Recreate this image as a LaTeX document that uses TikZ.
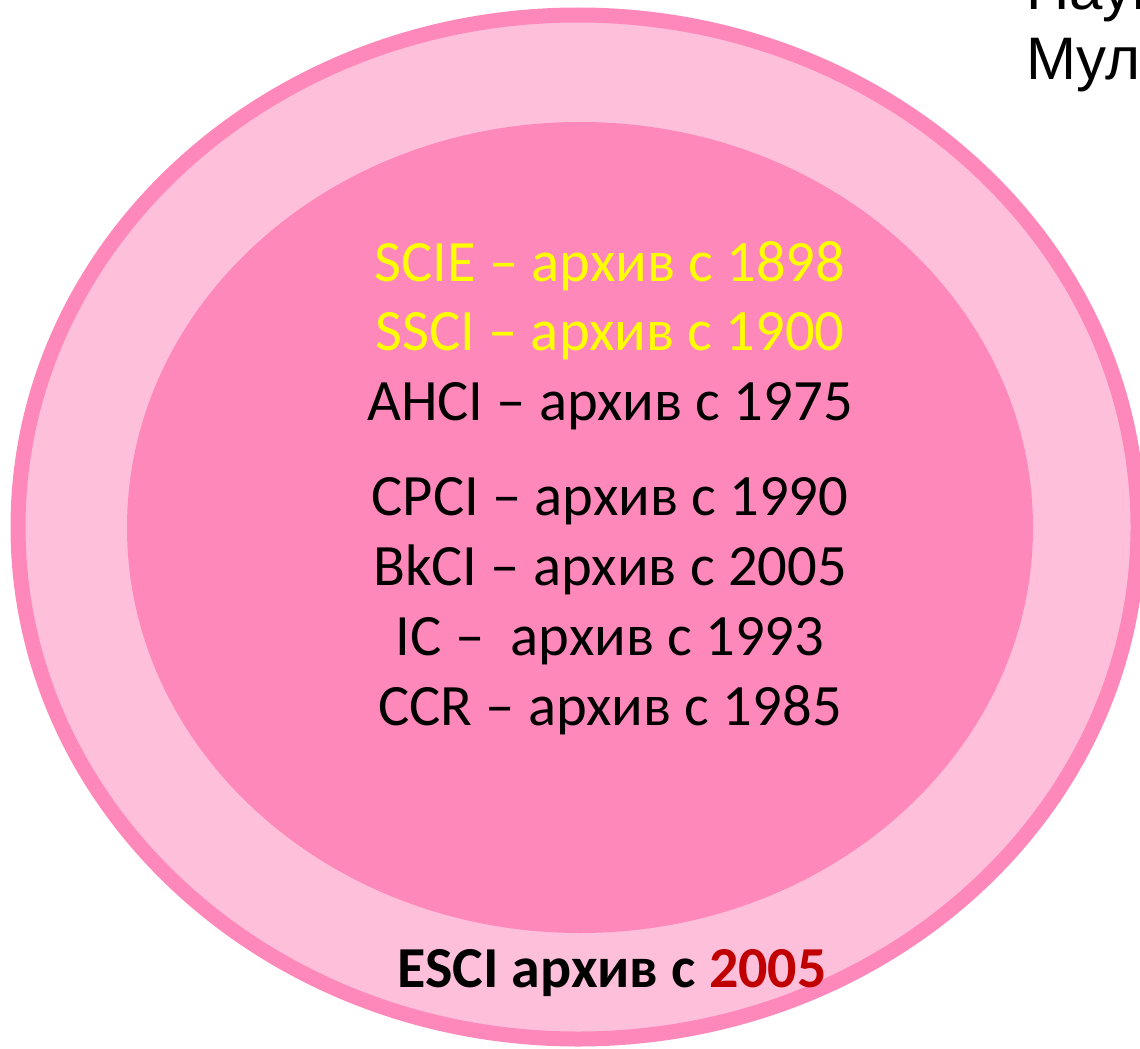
\documentclass[tikz,border=0pt]{standalone}
\usepackage{fontspec}
\setmainfont{Carlito}
\newfontfamily\arialfont{Liberation Sans}
\usetikzlibrary{shapes.geometric, positioning}
\definecolor{ringpink}{HTML}{FF88BB}
\definecolor{palepink}{HTML}{FDBFDA}
\definecolor{darkred}{HTML}{C00000}
\definecolor{brightyellow}{HTML}{FFFF00}

\tikzset{
  yearline/.style={anchor=base, inner sep=0pt, font=\fontsize{58.6}{70}\selectfont},
  titleline/.style={anchor=base west, inner sep=0pt, font=\arialfont\fontsize{60}{72}\selectfont},
}

\begin{document}
\begin{tikzpicture}[x=1pt, y=-1pt]
    % fixed frame
    \useasboundingbox (0,0) rectangle (1140,1049);
    \clip (0,0) rectangle (1140,1049);

    % rings
    \node[ellipse, draw=ringpink, line width=15pt, fill=palepink, inner sep=0pt,
          minimum width=1120pt, minimum height=1024pt] (outer) at (578,527) {};
    \node[ellipse, fill=ringpink, inner sep=0pt,
          minimum width=906pt, minimum height=811pt] (inner) at (580,527.5) {};

    % archive years
    \node[yearline, text=brightyellow] (scie) at (610,281) {SCIE – архив с 1898};
    \node[yearline, text=brightyellow] (ssci) at (610,350) {SSCI – архив с 1900};
    \node[yearline] (ahci) at (610,420) {AHCI – архив с 1975};
    \node[yearline] (cpci) at (610,515) {CPCI – архив с 1990};
    \node[yearline] (bkci) at (610,585) {BkCI – архив с 2005};
    \node[yearline] (ic) at (610,655) {IC – \ архив с 1993};
    \node[yearline] (ccr) at (610,725) {CCR – архив с 1985};

    \node[yearline, font=\bfseries\fontsize{58}{70}\selectfont] (esci) at (612,987)
        {ESCI архив с \textcolor{darkred}{2005}};

    % cut title
    \node[titleline] (title1) at (1026,10) {Наук};
    \node[titleline] (title2) at (1026,79) {Муль};
\end{tikzpicture}
\end{document}
